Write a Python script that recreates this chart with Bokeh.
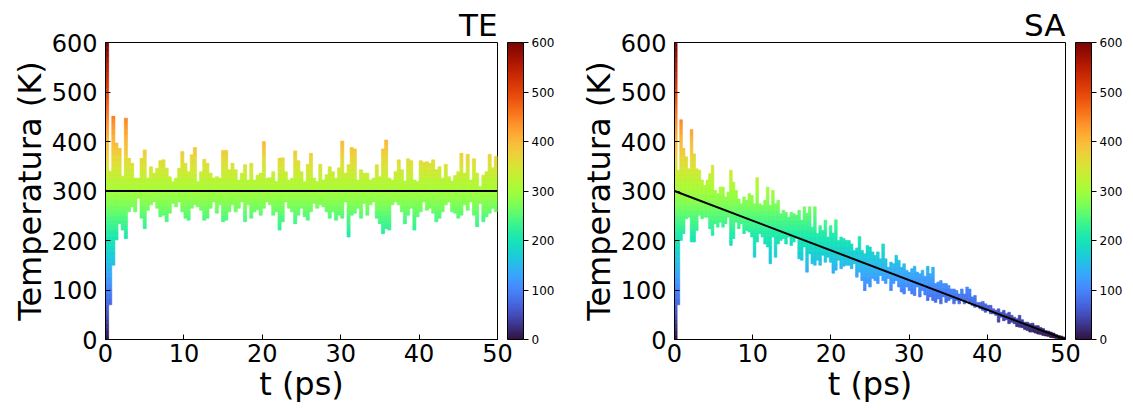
import numpy as np
from bokeh.plotting import figure
from bokeh.models import (LinearColorMapper, ColorBar, FixedTicker, Range1d,
                          ColumnDataSource)
from bokeh.layouts import row
from bokeh.palettes import Turbo256
from bokeh.embed import file_html
from bokeh.resources import INLINE

# ---------------- data ----------------
t_start, t_end = 0.0, 50.0
T_low, T_high = 0.0, 600.0

# TE: upper / lower envelope of the temperature trace per time window
te_high = [600, 340, 451, 397, 386, 330, 447, 366, 356, 326, 326, 366, 383, 326, 349, 336, 346, 361, 363, 346,
           329, 319, 326, 346, 380, 356, 339, 373, 388, 319, 339, 364, 356, 336, 326, 329, 326, 382, 382, 343,
           356, 343, 322, 336, 353, 322, 356, 322, 332, 336, 400, 326, 327, 339, 319, 366, 367, 339, 322, 326,
           381, 361, 339, 319, 354, 376, 326, 319, 354, 322, 333, 349, 339, 326, 347, 401, 336, 353, 388, 385,
           322, 343,
           336, 336, 322, 326, 353, 329, 385, 403, 326, 322, 339, 363, 343, 320, 365, 361, 322, 319, 361, 358,
           359, 356, 363, 343, 349, 326, 354, 329, 320, 331, 339, 376, 336, 374, 322, 365, 336, 309, 332, 339,
           374, 347, 370]
te_low = [0, 70, 150, 201, 234, 221, 204, 258, 268, 258, 285, 245, 224, 261, 272, 278, 265, 248, 251, 238,
          255, 275, 268, 278, 258, 245, 241, 265, 272, 268, 261, 241, 245, 265, 278, 255, 272, 238, 241, 258,
          272, 258, 265, 278, 238, 272, 245, 258, 262, 251, 265, 278, 272, 251, 258, 221, 238, 278, 265, 258,
          234, 251, 265, 248, 241, 258, 275, 265, 272, 268, 258, 245, 258, 241, 251, 245, 278, 207, 251, 255,
          265, 245,
          275, 251, 272, 278, 245, 234, 214, 224, 221, 272, 278, 272, 258, 234, 251, 265, 221, 248, 258, 278,
          261, 265, 255, 238, 245, 258, 272, 278, 258, 255, 245, 251, 272, 261, 278, 251, 228, 275, 238, 248,
          255, 265, 258]

# SA: upper / lower envelope of the temperature trace per time window
sa_high = [600, 342, 444, 386, 369, 345, 424, 375, 345, 342, 322, 311, 322, 335, 352, 301, 295, 308, 308, 288,
           298, 342, 318, 301, 284, 274, 288, 281, 295, 291, 274, 327, 274, 271, 281, 308, 271, 301, 274, 281,
           254, 261, 257, 247, 257, 254, 251, 261, 241, 268,
           255, 268, 227, 268, 214, 230, 220, 241, 207, 230, 215, 242, 200, 207, 204, 200, 200, 193, 180, 185,
           208, 180, 173, 190, 187, 177, 170, 177, 163, 193, 163, 146, 156, 153, 170, 160, 146, 153, 140, 136,
           143, 148, 136, 133, 140, 128, 148, 133,
           146, 113, 116, 119, 113, 113, 109, 102, 102, 99, 92, 102, 92, 106, 102, 86, 89, 75, 75, 77,
           72, 69, 69, 62, 59, 62, 55, 59, 52, 55, 49, 45, 42, 49, 40, 35, 35, 32, 33, 28,
           28, 24, 22, 18, 17, 15, 13, 10, 8, 7, 5]
sa_low = [0, 70, 200, 214, 244, 247, 197, 197, 220, 251, 244, 247, 247, 224, 210, 234, 227, 237, 227, 234,
          247, 190, 204, 237, 224, 234, 214, 220, 217, 207, 166, 197, 214, 207, 193, 187, 153, 207, 166, 193,
          200, 204, 193, 207, 190, 197, 204, 163, 160, 187,
          136, 173, 153, 150, 160, 150, 170, 156, 166, 156, 134, 140, 160, 143, 148, 150, 150, 143, 153, 126,
          136, 119, 99, 113, 106, 123, 119, 113, 129, 119, 113, 123, 99, 113, 119, 106, 96, 92, 106, 99,
          92, 89, 106, 86, 99, 90, 79, 86,
          79, 75, 82, 72, 86, 75, 79, 82, 72, 79, 72, 82, 72, 79, 72, 69, 65, 69, 62, 59,
          55, 59, 52, 52, 49, 35, 45, 38, 40, 32, 35, 32, 26, 25, 24, 20, 18, 15, 15, 13,
          11, 10, 8, 7, 6, 4, 3, 2, 1, 0, 0]

# reference (target) temperature lines
ref_t = [0, 50]
te_ref = [300, 300]
sa_ref = [300, 0]

x_ticks = [0, 10, 20, 30, 40, 50]
y_ticks = [0, 100, 200, 300, 400, 500, 600]
cbar_ticks = [0, 100, 200, 300, 400, 500, 600]

titles = ["TE", "SA"]
x_label = "t (ps)"
y_label = "Temperatura (K)"

# ---------------- styling ----------------
FONT = "DejaVu Sans"
BAND = 5.0  # colour quantisation step (K) for the value-coloured trace


def band_source(high, low):
    high = np.asarray(high, float)
    low = np.asarray(low, float)
    n = len(high)
    dt = (t_end - t_start) / n
    L, R, B, T, C = [], [], [], [], []
    for i in range(n):
        b, hi = low[i], high[i]
        while b < hi - 1e-9:
            top = min((np.floor(b / BAND + 1e-9) + 1) * BAND, hi)
            mid = 0.5 * (b + top)
            idx = int(np.clip((mid - T_low) / (T_high - T_low) * 256, 0, 255))
            L.append(t_start + i * dt)
            R.append(t_start + (i + 1) * dt)
            B.append(b)
            T.append(top)
            C.append(Turbo256[idx])
            b = top
    return ColumnDataSource(dict(left=L, right=R, bottom=B, top=T, color=C))


def make_panel(title, high, low, ref_y, width, b_left, b_right):
    p = figure(width=width, height=408, x_range=Range1d(t_start, t_end),
               y_range=Range1d(T_low, T_high), output_backend="svg",
               toolbar_location=None, min_border_left=b_left, min_border_right=b_right,
               min_border_top=42, min_border_bottom=69)
    p.grid.visible = False
    p.outline_line_color = "black"
    p.outline_line_width = 1
    p.outline_line_alpha = 1
    p.background_fill_color = "white"
    p.border_fill_color = "white"

    p.title.text = title
    p.title.align = "right"
    p.title.text_font = FONT
    p.title.text_font_size = "31px"
    p.title.text_font_style = "normal"
    p.title.text_color = "black"
    p.title.standoff = 0
    p.title.offset = 0

    src = band_source(high, low)
    p.quad(left="left", right="right", bottom="bottom", top="top", fill_color="color",
           line_color="color", line_width=0.6, source=src)
    p.line(ref_t, ref_y, line_color="black", line_width=2)

    for ax in (p.xaxis[0], p.yaxis[0]):
        ax.major_tick_in = 5
        ax.major_tick_out = 0
        ax.minor_tick_in = 0
        ax.minor_tick_out = 0
        ax.axis_line_color = "black"
        ax.major_tick_line_color = "black"
        ax.major_label_text_font = FONT
        ax.major_label_text_font_size = "24px"
        ax.major_label_text_color = "black"
        ax.axis_label_text_font = FONT
        ax.axis_label_text_font_size = "32px"
        ax.axis_label_text_font_style = "normal"
        ax.axis_label_text_color = "black"
        ax.axis_label_standoff = 0
    p.xaxis.ticker = FixedTicker(ticks=x_ticks)
    p.yaxis.ticker = FixedTicker(ticks=y_ticks)
    p.xaxis.axis_label = x_label
    p.yaxis.axis_label = y_label
    p.xaxis.major_label_standoff = 4
    p.yaxis.major_label_standoff = 8

    mapper = LinearColorMapper(palette=Turbo256, low=T_low, high=T_high)
    cb = ColorBar(color_mapper=mapper, ticker=FixedTicker(ticks=cbar_ticks), width=16,
                  padding=0, margin=0, location=(10, 0), bar_line_color="black",
                  major_tick_in=0, major_tick_out=5, major_tick_line_color="black",
                  minor_tick_in=0, minor_tick_out=0, label_standoff=3,
                  major_label_text_font=FONT, major_label_text_font_size="12px",
                  major_label_text_color="black", background_fill_alpha=0,
                  border_line_color=None)
    p.add_layout(cb, "right")
    return p


p1 = make_panel(titles[0], te_high, te_low, te_ref, 565, 105, 68)
p2 = make_panel(titles[1], sa_high, sa_low, sa_ref, 560, 109, 60)
layout = row(p1, p2)

open("out.html", "w").write(file_html(layout, INLINE))
